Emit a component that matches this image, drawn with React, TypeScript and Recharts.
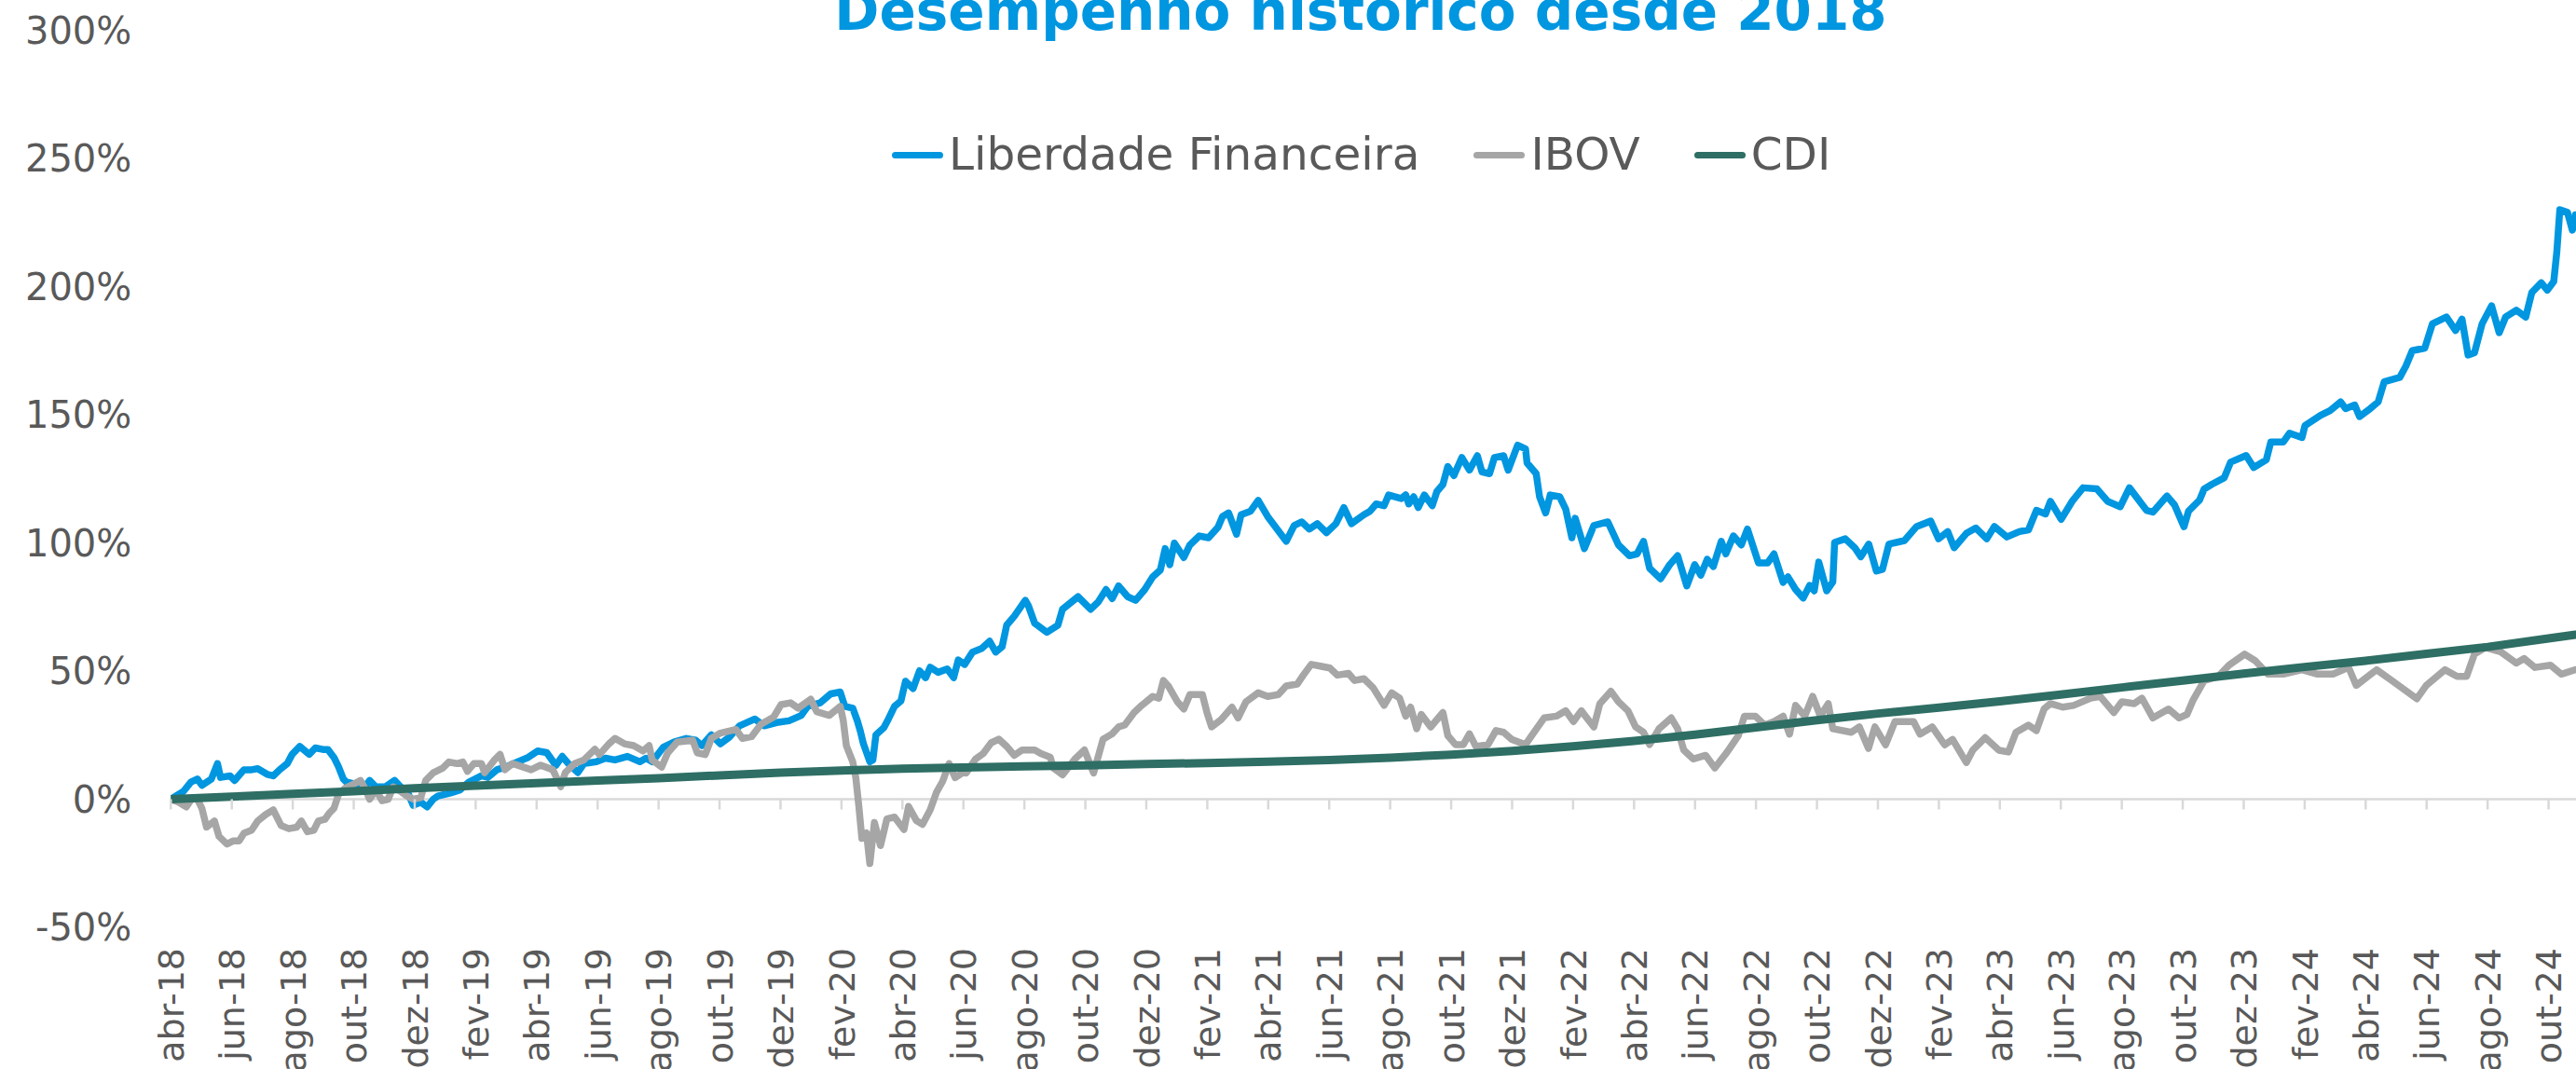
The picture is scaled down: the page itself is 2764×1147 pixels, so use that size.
import React from 'react';
import { LineChart, Line, XAxis, YAxis, ReferenceLine, Legend } from 'recharts';

// x = months since abr-18 (0 = abr-18), y = accumulated return in %
const TICK_LABELS = [
  'abr-18','jun-18','ago-18','out-18','dez-18','fev-19','abr-19','jun-19','ago-19','out-19',
  'dez-19','fev-20','abr-20','jun-20','ago-20','out-20','dez-20','fev-21','abr-21','jun-21',
  'ago-21','out-21','dez-21','fev-22','abr-22','jun-22','ago-22','out-22','dez-22','fev-23',
  'abr-23','jun-23','ago-23','out-23','dez-23','fev-24','abr-24','jun-24','ago-24','out-24',
];
const Y_TICKS = [-50, 0, 50, 100, 150, 200, 250, 300];

const LIBERDADE: [number, number][] = [
  [0,0],[0.41,3],[0.66,6.7],[0.87,7.9],[1.02,5.4],[1.33,7.9],[1.53,13.9],[1.63,8.5],[1.94,9.1],[2.09,7.3],
  [2.4,11.5],[2.65,11.5],[2.85,11.9],[3.16,9.7],[3.36,9.1],[3.57,11.5],[3.82,13.9],[3.98,17.5],[4.23,20.6],[4.54,17.5],
  [4.74,20],[4.99,19.4],[5.15,19.4],[5.35,16.3],[5.5,12.7],[5.66,7.9],[5.76,6.7],[6.01,6],[6.22,3.6],[6.37,4.8],
  [6.52,7.3],[6.73,4.8],[7.03,4.8],[7.34,7.3],[7.54,4.8],[7.8,1.8],[7.95,-2.4],[8.2,-1.2],[8.41,-3],[8.61,0],
  [8.76,1.2],[9.17,2.4],[9.48,3.6],[9.78,6.7],[10.19,9.1],[10.4,8.5],[10.7,11.5],[11.01,12.7],[11.36,14.5],[11.72,16.3],
  [12.03,18.8],[12.33,18.2],[12.63,13.2],[12.84,16.7],[13.04,13.9],[13.35,10.4],[13.55,13.9],[13.96,14.6],[14.26,16],[14.57,15.3],
  [14.98,16.7],[15.39,14.6],[15.59,16],[15.79,14.6],[16.15,20.2],[16.51,22.3],[16.91,23.7],[17.22,23],[17.42,20.9],[17.73,25.1],
  [18.03,21.6],[18.34,24.4],[18.65,28.6],[19.16,31.3],[19.46,28.6],[19.87,29.9],[20.28,30.6],[20.68,32.7],[20.89,36.2],[21.3,37.6],
  [21.65,41.1],[21.96,41.8],[22.11,36.2],[22.37,35.5],[22.52,30.6],[22.62,26.5],[22.72,21.6],[22.93,14.6],[23.03,15.3],[23.13,25.1],
  [23.39,27.9],[23.54,31.3],[23.74,36.2],[23.95,38.3],[24.1,46],[24.35,43.2],[24.56,50.1],[24.76,47.4],[24.91,51.5],[25.17,49.5],
  [25.47,50.8],[25.68,47.4],[25.83,54.3],[26.04,52.6],[26.3,57.4],[26.6,58.8],[26.86,61.6],[27.06,57.4],[27.27,59.5],[27.42,67.9],
  [27.67,71.4],[28.03,77.6],[28.13,75.5],[28.34,68.6],[28.74,65.1],[29.1,67.9],[29.25,74.1],[29.76,79],[30.17,74.1],[30.42,76.9],
  [30.68,81.8],[30.88,78.3],[31.09,83.2],[31.39,79],[31.65,77.6],[31.95,81.8],[32.21,86.7],[32.46,89.4],[32.62,97.8],[32.77,91.5],
  [32.92,99.9],[33.23,94.3],[33.43,99.2],[33.74,102.7],[34.04,102],[34.35,106.1],[34.5,110.3],[34.7,111.7],[34.96,103.4],[35.11,111],
  [35.42,112.4],[35.67,116.6],[35.98,110.3],[36.59,100.6],[36.85,106.8],[37.1,108.2],[37.35,105.4],[37.61,107.5],[37.91,104],[38.22,107.5],
  [38.48,113.8],[38.73,107.5],[39.14,111],[39.34,112.4],[39.54,115.2],[39.8,114.5],[39.95,118.7],[40.36,117.3],[40.51,118.7],[40.61,115.2],
  [40.77,118],[40.92,113.8],[41.12,118.7],[41.38,114.5],[41.53,120],[41.73,122.8],[41.89,129.8],[42.09,126.3],[42.35,133.3],[42.6,128.4],
  [42.86,134],[43.01,127.7],[43.26,127],[43.42,133.3],[43.72,134],[43.87,128.4],[44.18,138.1],[44.44,136.7],[44.49,131.2],[44.79,127],
  [44.9,118],[45.1,111.7],[45.25,118.7],[45.56,118],[45.76,113.1],[45.96,102],[46.07,109.6],[46.37,97.8],[46.68,106.8],[47.14,108.2],
  [47.49,99.2],[47.85,95],[48.1,95.7],[48.31,100.6],[48.51,90.1],[48.87,86],[49.17,91.5],[49.43,95],[49.73,83.2],[49.99,91.5],
  [50.19,87.4],[50.4,93.6],[50.6,90.8],[50.86,100.6],[51.01,95.7],[51.26,102.7],[51.52,99.2],[51.72,105.4],[52.08,92.2],[52.38,92.2],
  [52.59,95.7],[52.89,84.6],[53.05,86.7],[53.3,81.8],[53.55,78.5],[53.76,83.4],[53.91,81.3],[54.06,92.5],[54.32,81.3],[54.52,84.8],
  [54.58,100.2],[54.93,101.6],[55.24,98.1],[55.44,94.6],[55.7,99.5],[55.95,89],[56.15,89.7],[56.36,99.5],[56.87,100.9],[57.27,106.4],
  [57.73,108.5],[57.99,101.6],[58.29,104.4],[58.5,98.1],[58.9,103.7],[59.21,105.8],[59.57,101.6],[59.82,106.4],[60.23,102.3],[60.64,104.4],
  [60.94,105.1],[61.2,112.7],[61.5,111.3],[61.66,116.2],[62.01,109.2],[62.37,116.2],[62.73,121.5],[63.18,121.1],[63.54,116.2],[63.95,114.1],
  [64.25,121.5],[64.81,112.7],[65.02,112],[65.48,118.3],[65.73,114.8],[66.04,106.3],[66.19,112.4],[66.55,116.7],[66.7,121],[66.95,122.8],
  [67.36,125.4],[67.57,131.5],[68.08,134.1],[68.33,129.4],[68.74,132.4],[68.89,139.4],[69.3,139.4],[69.5,142.8],[69.91,141.1],[70.01,145.8],
  [70.52,149.8],[70.83,151.6],[71.18,155],[71.34,152.4],[71.64,153.8],[71.8,149.3],[72.15,152.4],[72.41,155],[72.61,162.9],[73.12,164.6],
  [73.32,169],[73.53,175],[73.94,176],[74.19,185.5],[74.65,188.1],[74.95,182.9],[75.16,187.3],[75.36,173.3],[75.57,174.2],[75.82,185.5],
  [76.13,192.5],[76.38,182],[76.59,188.1],[76.94,190.8],[77.25,188.1],[77.45,197.7],[77.76,201.5],[77.96,198.6],[78.17,202],[78.27,213.4],
  [78.37,230],[78.62,229],[78.78,222],[78.88,228],
];

const IBOV: [number, number][] = [
  [0,0],[0.26,-1.2],[0.51,-3],[0.71,0.6],[0.87,0],[1.02,-3.6],[1.17,-10.9],[1.43,-8.5],[1.58,-14.5],[1.84,-17.5],
  [2.04,-16.3],[2.24,-16.3],[2.4,-13.3],[2.65,-12.1],[2.85,-8.5],[3.11,-6],[3.36,-4.2],[3.62,-10.3],[3.87,-11.5],[4.13,-10.9],
  [4.28,-8.5],[4.48,-12.7],[4.69,-12.1],[4.84,-8.5],[5.05,-7.9],[5.2,-5.4],[5.35,-3.6],[5.5,1.8],[5.71,4.2],[6.01,6],
  [6.22,7.3],[6.37,4.2],[6.52,0],[6.73,3.6],[6.93,-0.6],[7.13,0],[7.29,4.8],[7.54,3],[7.75,1.2],[7.95,0],
  [8.2,0.6],[8.36,7.3],[8.61,10.3],[8.92,12.1],[9.12,14.5],[9.38,13.9],[9.58,14.5],[9.73,10.9],[9.94,13.9],[10.19,13.9],
  [10.29,10.3],[10.6,15.1],[10.8,17.5],[10.96,11.5],[11.21,13.9],[11.52,12.7],[11.82,11.5],[12.13,13.3],[12.53,11.5],[12.79,4.9],
  [12.94,10.4],[13.25,13.9],[13.55,15.3],[13.91,19.5],[14.06,17.4],[14.37,21.6],[14.57,23.7],[14.88,21.6],[15.18,20.9],[15.49,18.8],
  [15.69,20.9],[15.79,15.3],[16.1,12.5],[16.3,18.1],[16.61,22.3],[17.12,23],[17.27,18.1],[17.53,17.4],[17.73,23.7],[18.03,25.8],
  [18.54,27.2],[18.75,23.7],[19.05,24.4],[19.36,29.3],[19.77,32],[20.02,36.9],[20.33,37.6],[20.58,35.5],[20.99,39],[21.19,34.1],
  [21.6,32.7],[21.96,36.2],[22.06,30.6],[22.16,20.9],[22.37,14.6],[22.47,8.4],[22.57,-2.8],[22.67,-15.3],[22.82,-13.2],[22.93,-25.1],
  [23.08,-9.1],[23.28,-18.1],[23.49,-7.7],[23.74,-7],[24.05,-11.8],[24.2,-2.8],[24.46,-8.4],[24.66,-9.8],[24.91,-4.2],[25.12,2.8],
  [25.32,7],[25.53,13.9],[25.73,8.4],[25.99,10.4],[26.09,10.2],[26.4,15.7],[26.65,17.8],[26.91,22],[27.16,23.4],[27.42,20.6],
  [27.67,17.1],[27.93,19.2],[28.34,19.2],[28.54,17.8],[28.85,16.4],[28.95,12.2],[29.25,9.5],[29.66,15.7],[29.97,19.2],[30.27,10.2],
  [30.58,23.4],[30.88,25.5],[31.09,28.2],[31.29,28.9],[31.6,33.8],[31.85,36.6],[32.21,40.1],[32.41,39.4],[32.56,46.3],[32.72,44.2],
  [33.02,38],[33.23,35.2],[33.43,40.8],[33.84,40.8],[33.99,33.8],[34.14,28.2],[34.45,31],[34.81,35.9],[35.01,31.7],[35.27,38],
  [35.67,41.5],[35.98,40.1],[36.33,40.8],[36.59,44.2],[36.95,44.9],[37.15,48.4],[37.41,52.6],[37.71,51.9],[38.02,51.2],[38.27,48.4],
  [38.63,49.1],[38.83,46.3],[39.14,47],[39.44,43.5],[39.8,36.6],[40.05,41.5],[40.31,39.4],[40.51,32.4],[40.67,35.9],[40.87,27.5],
  [41.02,33.1],[41.33,28.2],[41.73,33.8],[41.89,24.8],[42.14,21.3],[42.4,21.3],[42.6,25.5],[42.81,20.6],[43.21,21.3],[43.47,26.8],
  [43.72,26.1],[43.98,23.4],[44.44,21.3],[44.64,24.8],[45.05,31.7],[45.45,32.4],[45.76,34.5],[46.01,30.3],[46.27,34.5],[46.68,28.2],
  [46.88,37.3],[47.24,42.1],[47.49,38],[47.8,34.5],[48.05,28.2],[48.31,26.1],[48.51,21.3],[48.82,27.5],[49.22,31.7],[49.43,27.5],
  [49.63,19.2],[49.94,15.7],[50.35,17.1],[50.65,12.2],[51.06,18.5],[51.42,24.8],[51.62,32.4],[51.98,32.4],[52.28,28.9],[52.59,30.3],
  [52.89,32.4],[53.1,25.4],[53.3,36.6],[53.6,32.4],[53.86,40.1],[54.11,32.4],[54.37,37.3],[54.52,27.5],[55.13,26.1],[55.39,28.2],
  [55.69,19.8],[55.9,28.2],[56.25,21.2],[56.56,30.3],[57.17,30.3],[57.38,25.4],[57.78,28.2],[58.19,21.2],[58.45,23.3],[58.9,14.3],
  [59.11,19.1],[59.52,24],[59.97,19.1],[60.28,18.4],[60.53,26.1],[60.94,28.9],[61.2,26.8],[61.45,35.2],[61.66,37.3],[62.06,35.9],
  [62.42,36.6],[62.98,39.4],[63.29,40.1],[63.74,33.8],[64,38],[64.41,37.3],[64.66,39.4],[65.02,31.7],[65.53,35.2],[65.88,31.7],
  [66.14,33.1],[66.34,38.7],[66.7,46.2],[67.16,47.9],[67.52,52.3],[68.03,56.6],[68.38,54],[68.79,48.8],[69.3,48.8],[69.91,50.5],
  [70.42,48.8],[70.93,48.8],[71.44,51.4],[71.69,44.4],[72.36,50.5],[72.87,46.2],[73.27,42.7],[73.68,39.2],[73.99,44.4],[74.6,50.5],
  [75,47.9],[75.31,47.9],[75.57,56.6],[75.92,59.2],[76.43,57.5],[76.94,53.1],[77.2,54.9],[77.55,51.4],[78.06,52.3],[78.42,48.8],
  [78.88,50.5],
];

const CDI: [number, number][] = [
  [0,0],[2,1.0],[4,2.1],[6,3.1],[8,4.3],[10,5.3],[12,6.3],[14,7.3],[16,8.2],[18,9.3],
  [20,10.4],[22,11.2],[24,11.9],[26,12.4],[28,12.8],[30,13.2],[32,13.7],[34,14.1],[36,14.6],[38,15.3],
  [40,16.2],[42,17.4],[44,18.8],[46,20.6],[48,22.7],[50,25.2],[52,28.0],[54,30.8],[56,33.4],[58,35.7],
  [60,38.2],[62,40.8],[64,43.6],[66,46.3],[68,49.0],[70,51.6],[72,54.0],[74,56.7],[76,59.4],[78,62.7],
  [78.88,64.2],
];

const SERIES = [
  { name: 'Liberdade Financeira', color: '#0096E0', width: 7.5, points: LIBERDADE },
  { name: 'IBOV', color: '#A6A6A6', width: 7.5, points: IBOV },
  { name: 'CDI', color: '#2E6E64', width: 9, points: CDI },
];

const W = 2764;
const H = 1147;
const PLOT_TOP = 32.5;
const X_AXIS_H = 152;
const Y_AXIS_W = 183.3;
const Y_MIN = -50;
const Y_MAX = 300;
const PLOT_H = H - PLOT_TOP - X_AXIS_H;
const ZERO_Y = PLOT_TOP + PLOT_H * (Y_MAX / (Y_MAX - Y_MIN));
const FONT = '"DejaVu Sans", "Noto Sans", sans-serif';
const TEXT = '#595959';
const AXIS = '#D9D9D9';

const XTick = (props: any) => {
  const { x, payload } = props;
  const label = TICK_LABELS[Math.round(payload.value / 2)] ?? '';
  const top = H - X_AXIS_H + 22;
  const fs = 38;
  return (
    <g>
      <line x1={x} x2={x} y1={ZERO_Y} y2={ZERO_Y + 11} stroke={AXIS} strokeWidth={2.5} />
      <text
        x={x}
        y={top}
        transform={`rotate(-90, ${x}, ${top})`}
        textAnchor="end"
        dy={fs * 0.36}
        fontSize={fs}
        fontFamily={FONT}
        fill={TEXT}
      >
        {label}
      </text>
    </g>
  );
};

const YTick = (props: any) => {
  const { y, payload } = props;
  const fs = 40;
  return (
    <text
      x={Y_AXIS_W - 42}
      y={y}
      dy={fs * 0.36}
      textAnchor="end"
      fontSize={fs}
      fontFamily={FONT}
      fill={TEXT}
    >
      {`${payload.value}%`}
    </text>
  );
};

const LegendContent = () => (
  <div style={{ display: 'flex', alignItems: 'center', fontFamily: FONT, fontSize: 48.5, lineHeight: '48px', color: TEXT }}>
    {SERIES.map((s, i) => (
      <div key={s.name} style={{ display: 'flex', alignItems: 'center', marginRight: i < SERIES.length - 1 ? 58 : 0 }}>
        <div style={{ width: 55, height: 7, borderRadius: 4, background: s.color, marginRight: 6, marginTop: 3 }} />
        <span style={{ whiteSpace: 'nowrap' }}>{s.name}</span>
      </div>
    ))}
  </div>
);

export default function App() {
  return (
    <div style={{ position: 'absolute', left: 0, top: 0, width: W, height: H, overflow: 'hidden', background: '#fff' }}>
      <div
        style={{
          position: 'absolute', left: 460, width: 2000, top: -17.4, textAlign: 'center',
          fontFamily: FONT, fontWeight: 700, fontSize: 58, lineHeight: '58px', color: '#0096E0', whiteSpace: 'nowrap',
        }}
      >
        Desempenho histórico desde 2018
      </div>
      <LineChart width={W} height={H} margin={{ top: PLOT_TOP, right: 0, bottom: 0, left: 0 }}>
        <XAxis
          type="number"
          dataKey="m"
          domain={[0, 78.9]}
          ticks={TICK_LABELS.map((_, i) => i * 2)}
          interval={0}
          height={X_AXIS_H}
          axisLine={false}
          tickLine={false}
          tick={<XTick />}
          allowDataOverflow
        />
        <YAxis
          type="number"
          domain={[Y_MIN, Y_MAX]}
          ticks={Y_TICKS}
          interval={0}
          width={Y_AXIS_W}
          axisLine={false}
          tickLine={false}
          tick={<YTick />}
        />
        <ReferenceLine y={0} stroke={AXIS} strokeWidth={2.5} />
        <Legend
          layout="horizontal"
          verticalAlign="middle"
          align="center"
          content={<LegendContent />}
          wrapperStyle={{ position: 'absolute', top: 141, left: 957, width: 'auto', height: 'auto' }}
        />
        {SERIES.map((s) => (
          <Line
            key={s.name}
            name={s.name}
            data={s.points.map(([m, v]) => ({ m, v }))}
            dataKey="v"
            type="linear"
            stroke={s.color}
            strokeWidth={s.width}
            strokeLinejoin="round"
            strokeLinecap="round"
            dot={false}
            activeDot={false}
            isAnimationActive={false}
          />
        ))}
      </LineChart>
    </div>
  );
}
